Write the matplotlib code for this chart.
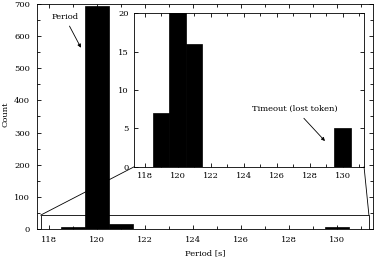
import matplotlib
matplotlib.use("Agg")
import matplotlib.pyplot as plt
from matplotlib.patches import Rectangle, ConnectionPatch
from matplotlib.ticker import MultipleLocator

# histogram of measured token periods
periods = [119, 120, 121, 130]
counts = [7, 695, 16, 5]

plt.rcParams['font.family'] = 'DejaVu Serif'
plt.rcParams['font.size'] = 6
plt.rcParams['axes.linewidth'] = 0.6

fig = plt.figure(figsize=(3.8, 2.62), dpi=100)

# main plot
ax = fig.add_axes([0.0974, 0.126, 0.8842, 0.8587])
ax.bar(periods, counts, width=1.0, color='black', edgecolor='black', linewidth=0.5)
ax.set_xlim(117.5, 131.5)
ax.set_ylim(0, 700)
ax.xaxis.set_major_locator(MultipleLocator(2))
ax.xaxis.set_minor_locator(MultipleLocator(1))
ax.yaxis.set_major_locator(MultipleLocator(100))
ax.yaxis.set_minor_locator(MultipleLocator(50))
ax.tick_params(which='both', direction='in', top=True, right=True, width=0.6)
ax.tick_params(which='major', length=3, pad=5)
ax.tick_params(which='minor', length=2)
ax.set_xlabel('Period [s]', labelpad=4)
ax.set_ylabel('Count')
ax.yaxis.set_label_coords(-0.083, 0.51)
ax.annotate('Period', xy=(119.33, 564), xytext=(118.65, 660),
            ha='center', va='center',
            arrowprops=dict(arrowstyle='-|>', color='black', lw=0.6,
                            mutation_scale=5, shrinkA=2, shrinkB=0))

# zoom box
ax.add_patch(Rectangle((117.65, 0), 131.33 - 117.65, 43, fill=False,
                       edgecolor='black', linewidth=0.6, zorder=3))

# inset
ins = fig.add_axes([0.3534, 0.3637, 0.6046, 0.5853])
ins.bar(periods, counts, width=1.0, color='black', edgecolor='black', linewidth=0.5)
ins.set_xlim(117.37, 131.3)
ins.set_ylim(0, 20)
ins.xaxis.set_major_locator(MultipleLocator(2))
ins.xaxis.set_minor_locator(MultipleLocator(1))
ins.yaxis.set_major_locator(MultipleLocator(5))
ins.tick_params(which='both', direction='in', top=True, right=True, width=0.6)
ins.tick_params(which='major', length=3, pad=4)
ins.tick_params(which='minor', length=2)
ins.annotate('Timeout (lost token)', xy=(128.93, 3.35), xytext=(127.1, 7.6),
             ha='center', va='center',
             arrowprops=dict(arrowstyle='-|>', color='black', lw=0.6,
                             mutation_scale=5, shrinkA=3, shrinkB=0))

for xa, xb in [(117.65, 0), (131.33, 1)]:
    con = ConnectionPatch(xyA=(xa, 43), coordsA=ax.transData,
                          xyB=(xb, 0), coordsB=ins.transAxes,
                          color='black', linewidth=0.6)
    fig.add_artist(con)

fig.savefig('out.png', dpi=100)
